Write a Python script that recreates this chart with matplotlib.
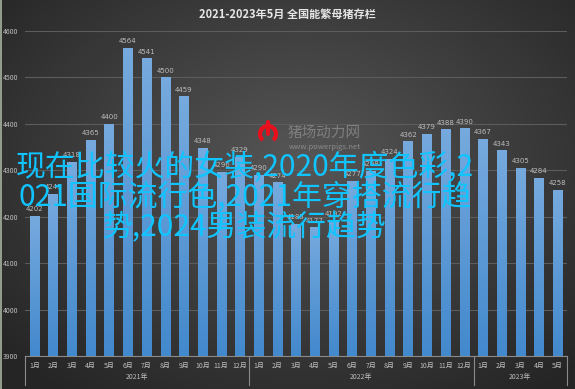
import matplotlib
matplotlib.use("Agg")
import matplotlib.pyplot as plt
import numpy as np
from matplotlib.colors import LinearSegmentedColormap
from matplotlib.patches import Arc
from matplotlib.transforms import blended_transform_factory

plt.rcParams['font.family'] = ['Noto Sans CJK SC', 'DejaVu Sans']

# data
months = ['1月', '2月', '3月', '4月', '5月', '6月', '7月', '8月', '9月', '10月', '11月', '12月',
          '1月', '2月', '3月', '4月', '5月', '6月', '7月', '8月', '9月', '10月', '11月', '12月',
          '1月', '2月', '3月', '4月', '5月']
values = [4202, 4249, 4318, 4365, 4400, 4564, 4541, 4500, 4459, 4348, 4296, 4329,
          4290, 4274, 4185, 4177, 4192, 4277, 4298, 4324, 4362, 4379, 4388, 4390,
          4367, 4343, 4305, 4284, 4258]
years = ['2021年', '2022年', '2023年']
year_counts = [12, 12, 5]
title = '2021-2023年5月 全国能繁母猪存栏'
overlay = '现在比较火的女装,2020年度色彩,2\n021国际流行色,2021年穿搭流行趋\n势,2024男装流行趋势'

W, H = 575, 389
fig = plt.figure(figsize=(W / 100, H / 100), dpi=100)

# dark radial background
bg = fig.add_axes([0, 0, 1, 1], zorder=-10)
yy, xx = np.mgrid[0:H, 0:W]
r = np.sqrt(((xx - 300) / 420.0) ** 2 + ((yy - 160) / 300.0) ** 2)
shade = np.clip(0.34 - 0.2 * r, 0.15, 0.34)
bg.imshow(shade, cmap='gray', vmin=0, vmax=1, extent=[0, 1, 0, 1], aspect='auto')
bg.axis('off')
fig.add_artist(plt.Line2D([0.001, 0.001], [0, 1], color='#a9b3a0', lw=1.2, transform=fig.transFigure))

ax = fig.add_axes([25 / W, 1 - 356 / H, 542 / W, 325 / H])
ax.set_facecolor('none')
x = np.arange(len(values))

bars = ax.bar(x, [v - 3900 for v in values], bottom=3900, width=0.5, color='#5b9bd5', zorder=3)
grad = LinearSegmentedColormap.from_list('g', ['#4389cd', '#76aade'])
for b in bars:
    x0, w, h = b.get_x(), b.get_width(), b.get_height()
    im = ax.imshow(np.linspace(0, 1, 64).reshape(-1, 1), cmap=grad, origin='lower',
                   extent=[x0, x0 + w, 3900, 3900 + h], aspect='auto', zorder=3)
    im.set_clip_path(b)
ax.set_xlim(-0.5, len(values) - 0.5)
ax.set_ylim(3900, 4600)

for xi, v in zip(x, values):
    ax.text(xi, v + 8, str(v), ha='center', va='bottom', fontsize=5, color='#bdbdbd',
            family='DejaVu Sans', zorder=4)

ax.set_yticks(range(3900, 4601, 100))
ax.grid(axis='y', color='#5c5c5c', lw=0.8, zorder=0)
ax.tick_params(axis='y', length=0, labelsize=5, labelcolor='#bdbdbd', pad=3)
for lab in ax.get_yticklabels():
    lab.set_horizontalalignment('left')
    lab.set_x(-0.034)
ax.set_xticks(x)
ax.set_xticklabels(months)
ax.tick_params(axis='x', length=0, labelsize=5, labelcolor='#bdbdbd', pad=4)
for s in ['top', 'right', 'left']:
    ax.spines[s].set_visible(False)
ax.spines['bottom'].set_color('#8a8a8a')
ax.spines['bottom'].set_linewidth(0.8)

# two-level axis separators and year labels
tr = blended_transform_factory(ax.transData, ax.transAxes)
start = -0.5
for yr, n in zip(years, year_counts):
    ax.plot([start, start], [0, -0.09], color='#8a8a8a', lw=0.8, transform=tr, clip_on=False)
    ax.text(start + n / 2, -0.065, yr, ha='center', va='center', fontsize=5, color='#bdbdbd', transform=tr)
    start += n
ax.plot([start, start], [0, -0.09], color='#8a8a8a', lw=0.8, transform=tr, clip_on=False)

fig.text(0.5, 1 - 14 / H, title, ha='center', va='center', fontsize=8, fontweight='bold', color='#e6e6e6')

# watermark logo
logo = fig.add_axes([0, 0, 1, 1], zorder=5)
logo.set_xlim(0, W)
logo.set_ylim(H, 0)
logo.axis('off')
logo.add_patch(Arc((268, 134), 16, 16, theta1=-230, theta2=50, color='#e8101c', lw=3))
logo.plot([268, 268], [122, 134], color='#e8101c', lw=3, solid_capstyle='round')
logo.text(288, 133, '猪场动力网', fontsize=10.5, color='#7f7f7f', va='center', ha='left')
logo.text(289, 147, 'www.powerpigs.net', fontsize=5.5, color='#8c8c8c', va='center', ha='left')

fig.text(245 / W, 1 - 198 / H, overlay, ha='center', va='center', fontsize=21.5, color='#10c4ff',
         linespacing=0.95, zorder=10)

fig.savefig('out.png', dpi=100)
